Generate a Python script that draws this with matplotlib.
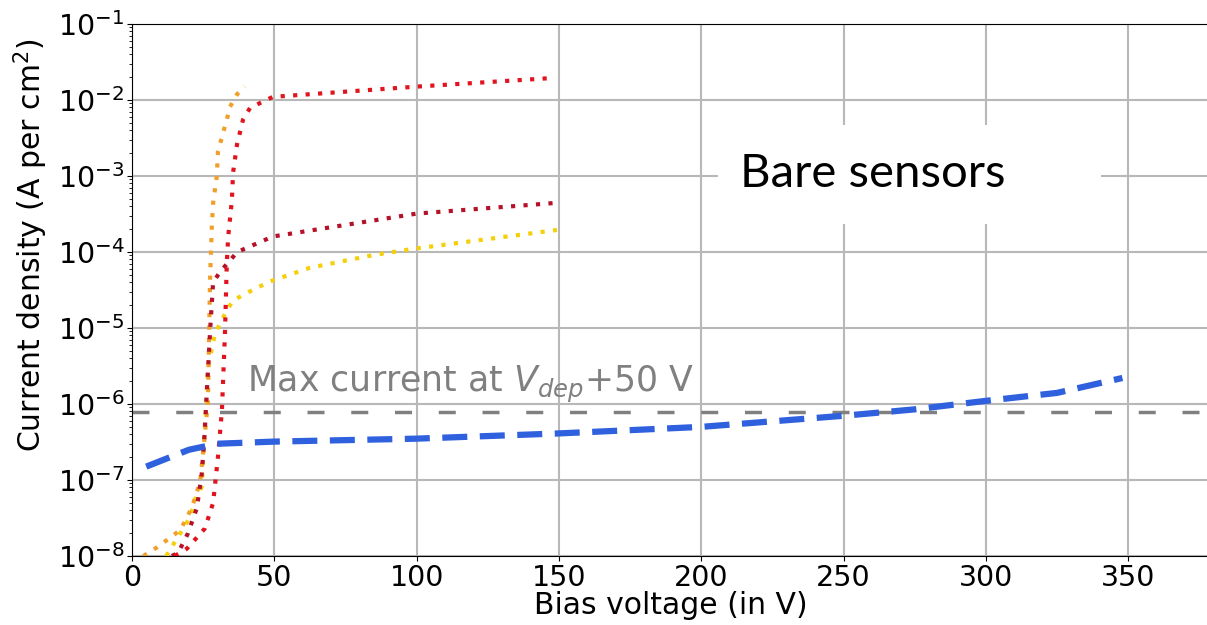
import numpy as np
import matplotlib
matplotlib.use("Agg")
import matplotlib.pyplot as plt
from matplotlib.patches import Rectangle

# blue: dashed curve
v_blue = [5, 20, 30, 50, 100, 150, 200, 250, 275, 300, 325, 348]
j_blue = [1.5e-7, 2.5e-7, 3.0e-7, 3.2e-7, 3.5e-7, 4.1e-7, 5.0e-7, 7.0e-7, 8.5e-7, 1.1e-6, 1.4e-6, 2.2e-6]

# red: upper dotted curve
v_red = [15, 19.3, 25.6, 28.5, 30.2, 31.6, 32.7, 33.3, 33.8, 35.1, 35.5, 36.9, 39, 41.5, 49.5, 100, 148]
j_red = [1e-8, 1.25e-8, 2.3e-8, 5e-8, 2e-7, 8.3e-7, 9.3e-6, 7e-5, 1.6e-4, 4.8e-4, 1.1e-3, 2.6e-3,
         5.5e-3, 7.9e-3, 1.1e-2, 1.5e-2, 1.95e-2]

# dark red: middle dotted curve
v_dred = [14, 16.2, 19.7, 22.8, 24.5, 25.5, 26.5, 27.5, 28.5, 31, 33.4, 37, 49.5, 100, 148]
j_dred = [1e-8, 1.1e-8, 2e-8, 4.3e-8, 1.2e-7, 4e-7, 2e-6, 1e-5, 4e-5, 5.5e-5, 7e-5, 1e-4, 1.6e-4,
          3.2e-4, 4.4e-4]

# orange: steep dotted curve
v_orng = [4, 8.8, 17, 21, 23.9, 25, 26.7, 27.4, 28, 28.5, 29.8, 30.2, 32, 33.3, 34.4, 37, 39.7]
j_orng = [1e-8, 1.3e-8, 2.2e-8, 4.3e-8, 9.3e-8, 2.3e-7, 1.1e-6, 4e-5, 2e-4, 4.4e-4, 1e-3, 2.1e-3,
          3.7e-3, 5.5e-3, 8.1e-3, 1.2e-2, 1.5e-2]

# yellow: lower dotted curve
v_yell = [12, 20.4, 22.1, 24.5, 26.7, 29.2, 33.3, 35.5, 40.4, 48.5, 62.5, 84.7, 98.8, 149.3]
j_yell = [1e-8, 3.2e-8, 5.5e-8, 8.1e-8, 3.1e-6, 8.5e-6, 1.7e-5, 2.3e-5, 2.9e-5, 4.1e-5, 6.2e-5,
          9.1e-5, 1.1e-4, 1.95e-4]

max_current = 7.8e-7

plt.figure(figsize=(12.07, 6.25), dpi=100)
ax = plt.gca()
ax.set_position([132 / 1207, 69 / 625, 1081.5 / 1207, 532 / 625])

dots = (1, 2)
ax.plot(v_yell, j_yell, color='#f5cf0a', lw=3, dashes=dots, zorder=3)
ax.plot(v_orng, j_orng, color='#f0a028', lw=3, dashes=dots, zorder=4)
ax.plot(v_dred, j_dred, color='#b5122a', lw=3, dashes=dots, zorder=5)
ax.plot(v_red, j_red, color='#e0141e', lw=3, dashes=dots, zorder=5)
ax.plot(v_blue, j_blue, color='#2f60de', lw=4.5, dashes=(4, 2), zorder=6)

ax.axhline(max_current, color='#808080', lw=2.5, dashes=(4.9, 7.7), zorder=2)
ax.text(40.4, 1.45e-6, 'Max current at $V_{dep}$+50 V', color='#808080', fontsize=25,
        ha='left', va='baseline', zorder=7)

ax.add_patch(Rectangle((206, 2.34e-4), 134.5, 4.7e-3 - 2.34e-4, facecolor='white',
                       edgecolor='none', zorder=1.5))
ax.text(213.6, 7.2e-4, 'Bare sensors', fontsize=34, family='Lato', color='black',
        ha='left', va='baseline', zorder=7)

ax.set_yscale('log')
ax.set_xlim(0, 380)
ax.set_ylim(1e-8, 1e-1)
ax.set_xticks([0, 50, 100, 150, 200, 250, 300, 350])
ax.grid(True, which='major', color='#b8b8b8', lw=1.5, zorder=1)
ax.set_axisbelow(True)
ax.tick_params(labelsize=20.5, pad=2)
ax.set_xlabel('Bias voltage (in V)', fontsize=21.5)
ax.set_ylabel('Current density (A per cm$^2$)', fontsize=21.5)
ax.xaxis.set_label_coords(0.498, -0.066)
ax.yaxis.set_label_coords(-0.076, 0.585)

plt.savefig('out.png', dpi=100)
